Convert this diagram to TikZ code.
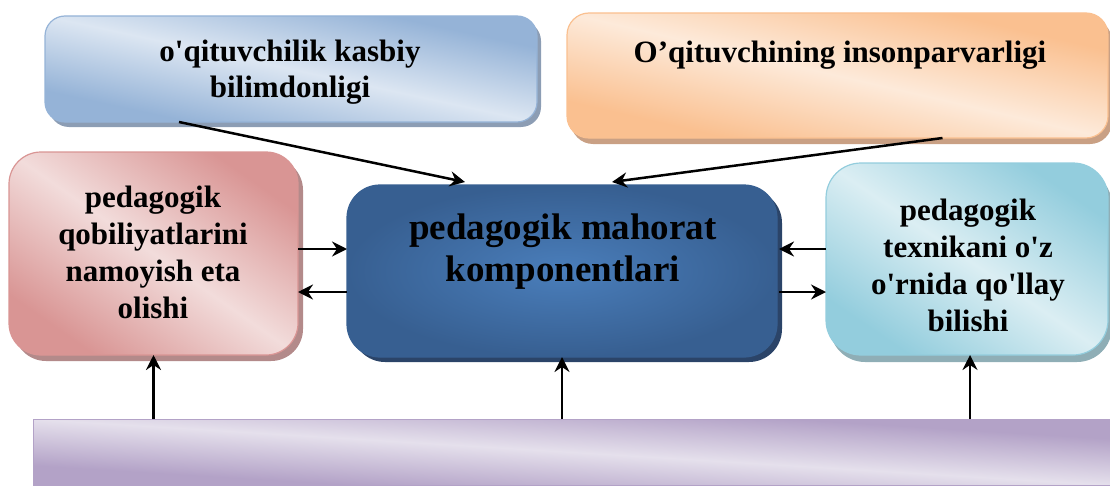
\documentclass[tikz,border=0pt]{standalone}
\usepackage{fontspec}
\setmainfont{Liberation Serif}[Ligatures=TeXOff]
\usetikzlibrary{arrows.meta,backgrounds}

\definecolor{bluD}{HTML}{95B3D7}
\definecolor{bluL}{HTML}{DCE6F2}
\definecolor{bluS}{HTML}{8C9DB4}
\definecolor{orgD}{HTML}{FAC090}
\definecolor{orgL}{HTML}{FDEADA}
\definecolor{orgS}{HTML}{C9A084}
\definecolor{pnkD}{HTML}{D99594}
\definecolor{pnkL}{HTML}{F2DCDB}
\definecolor{pnkS}{HTML}{B38A8A}
\definecolor{ctrO}{HTML}{375F91}
\definecolor{ctrI}{HTML}{4A7EBB}
\definecolor{ctrS}{HTML}{2B4468}
\definecolor{cyD}{HTML}{93CDDD}
\definecolor{cyL}{HTML}{DBEEF3}
\definecolor{cyS}{HTML}{8FAEB6}
\definecolor{purD}{HTML}{B3A2C7}
\definecolor{purL}{HTML}{E5E0EC}

% diagonal two-tone fill of a named box: node, dark, light, radius, width, height
\newcommand\boxshade[6]{%
  \begin{scope}
    \clip[rounded corners=#4] (#1.north west) rectangle (#1.south east);
    \shade[top color=#2, bottom color=#2, middle color=#3, shading angle=-45,
      transform canvas={shift={(#1.center)}, xscale=#5/100, yscale=#6/100}]
      (-50pt,-50pt) rectangle (50pt,50pt);
  \end{scope}}

\begin{document}
\begin{tikzpicture}[x=1pt,y=-1pt,
  box/.style={rectangle, inner sep=0pt, outer sep=0pt, line width=1.2pt},
  txt/.style={align=center, inner sep=0pt, font=\bfseries\fontsize{31}{36}\selectfont},
  arr/.style={-{Stealth[length=15pt,width=15pt,inset=5pt]}, line width=2.5pt}]
\useasboundingbox (0,0) rectangle (1110,487);

% boxes
\node[box, draw=bluD, rounded corners=20pt, minimum width=492pt, minimum height=106pt] (kb) at (291,69) {};
\node[box, draw=orgD, rounded corners=22pt, minimum width=541pt, minimum height=125pt] (ins) at (837.5,75.5) {};
\node[box, draw=pnkD, rounded corners=32pt, minimum width=289pt, minimum height=203pt] (pnk) at (153.5,253.5) {};
\node[box, inner color=ctrI, outer color=ctrO, draw=ctrO, rounded corners=33pt, minimum width=430pt, minimum height=172pt] (ctr) at (562,271) {};
\node[box, draw=cyD, rounded corners=35pt, minimum width=282pt, minimum height=192pt] (cy) at (967,259) {};
\node[box, draw=purD, line width=1pt, minimum width=1077pt, minimum height=66pt] (bar) at (571.5,452) {};

% offset shadows and fills behind the outlines
\begin{scope}[on background layer]
  \fill[bluS, rounded corners=20pt] ([shift={(4,5)}]kb.north west) rectangle ([shift={(4,5)}]kb.south east);
  \fill[orgS, rounded corners=22pt] ([shift={(4,6)}]ins.north west) rectangle ([shift={(4,6)}]ins.south east);
  \fill[pnkS, rounded corners=32pt] ([shift={(5,6)}]pnk.north west) rectangle ([shift={(5,6)}]pnk.south east);
  \fill[ctrS, rounded corners=33pt] ([shift={(5,5)}]ctr.north west) rectangle ([shift={(5,5)}]ctr.south east);
  \fill[cyS, rounded corners=35pt] ([shift={(4,7)}]cy.north west) rectangle ([shift={(4,7)}]cy.south east);
  \boxshade{kb}{bluD}{bluL}{20pt}{492}{106}
  \boxshade{ins}{orgD}{orgL}{22pt}{541}{125}
  \boxshade{pnk}{pnkD}{pnkL}{32pt}{289}{203}
  \boxshade{cy}{cyD}{cyL}{35pt}{282}{192}
  \boxshade{bar}{purD}{purL}{0pt}{1077}{66}
\end{scope}

% labels
\node[txt] (kbT) at (290,72) {o'qituvchilik kasbiy\\bilimdonligi};
\node[txt] (insT) at (840,55) {O’qituvchining insonparvarligi};
\node[txt, font=\bfseries\fontsize{31}{37}\selectfont] (pnkT) at (153,252) {pedagogik\\qobiliyatlarini\\namoyish eta\\olishi};
\node[txt, font=\bfseries\fontsize{31}{37}\selectfont] (cyT) at (968,265) {pedagogik\\texnikani o'z\\o'rnida qo'llay\\bilishi};
\node[txt, font=\bfseries\fontsize{37}{42}\selectfont] (ctrT) at (563,252) {pedagogik mahorat\\komponentlari};

% connectors
\coordinate (yA) at (0,249);
\coordinate (yB) at (0,292);
\draw[arr] ([xshift=-112pt]kb.south) -- ([xshift=-97pt,yshift=3pt]ctr.north);
\draw[arr] ([xshift=105pt]ins.south) -- ([xshift=50pt,yshift=3pt]ctr.north);
\draw[arr] (pnk.east |- yA) -- (ctr.west |- yA);
\draw[arr] (ctr.west |- yB) -- (pnk.east |- yB);
\draw[arr] (cy.west |- yA) -- ([xshift=2pt]ctr.east |- yA);
\draw[arr] ([xshift=2pt]ctr.east |- yB) -- (cy.west |- yB);
\draw[arr] (pnk.south |- bar.north) -- (pnk.south);
\draw[arr] (ctr.south |- bar.north) -- (ctr.south);
\draw[arr] ([xshift=3pt]cy.south |- bar.north) -- ([xshift=3pt]cy.south);
\end{tikzpicture}
\end{document}
